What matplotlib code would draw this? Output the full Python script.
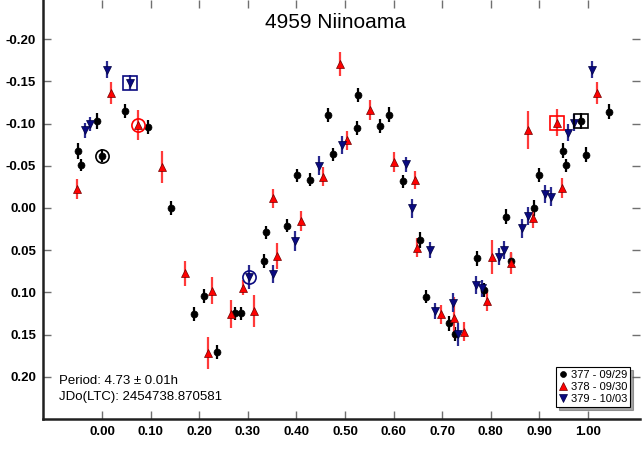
import matplotlib
matplotlib.use("Agg")
import matplotlib.pyplot as plt

# phase, reduced mag, error for each night
n377_phase = [-0.050, -0.043, -0.010, -0.001, 0.047, 0.094, 0.143, 0.189, 0.210, 0.237,
              0.274, 0.285, 0.333, 0.338, 0.380, 0.401, 0.429, 0.464, 0.476, 0.524,
              0.527, 0.571, 0.5905, 0.619, 0.654, 0.667, 0.715, 0.726, 0.771, 0.786,
              0.8306, 0.842, 0.8895, 0.900, 0.948, 0.955, 0.986, 0.995, 1.043]
n377_mag = [-0.0675, -0.051, -0.103, -0.062, -0.115, -0.096, 0.000, 0.1256, 0.104, 0.1706,
            0.125, 0.125, 0.063, 0.029, 0.021, -0.0387, -0.0336, -0.110, -0.0636, -0.095,
            -0.134, -0.097, -0.1106, -0.0316, 0.038, 0.105, 0.1366, 0.149, 0.0596, 0.097,
            0.0103, 0.0624, 0.000, -0.039, -0.068, -0.0506, -0.103, -0.063, -0.114]
n377_err = [0.009, 0.007, 0.010, 0.008, 0.008, 0.008, 0.008, 0.008, 0.008, 0.008,
            0.008, 0.008, 0.008, 0.008, 0.008, 0.008, 0.008, 0.008, 0.008, 0.008,
            0.008, 0.008, 0.009, 0.008, 0.009, 0.008, 0.009, 0.008, 0.009, 0.008,
            0.009, 0.009, 0.009, 0.008, 0.009, 0.008, 0.010, 0.009, 0.009]

n378_phase = [-0.051, 0.0185, 0.075, 0.123, 0.170, 0.218, 0.226, 0.265, 0.2895, 0.313,
              0.352, 0.361, 0.409, 0.4555, 0.490, 0.505, 0.551, 0.600, 0.644, 0.6475,
              0.697, 0.724, 0.745, 0.793, 0.803, 0.841, 0.8765, 0.8875, 0.936, 0.947,
              1.018]
n378_mag = [-0.0225, -0.136, -0.098, -0.0485, 0.0775, 0.1715, 0.098, 0.1255, 0.0944, 0.1217,
            -0.0115, 0.057, 0.015, -0.037, -0.1706, -0.080, -0.1165, -0.0545, -0.033, 0.047,
            0.126, 0.130, 0.1466, 0.110, 0.0585, 0.0656, -0.0924, 0.0122, -0.101, -0.0233,
            -0.136]
n378_err = [0.012, 0.013, 0.018, 0.019, 0.015, 0.019, 0.016, 0.017, 0.009, 0.019,
            0.011, 0.015, 0.012, 0.011, 0.014, 0.011, 0.012, 0.012, 0.011, 0.011,
            0.011, 0.024, 0.011, 0.012, 0.020, 0.013, 0.022, 0.011, 0.016, 0.012,
            0.013]

n379_phase = [-0.036, -0.025, 0.011, 0.058, 0.303, 0.351, 0.398, 0.4465, 0.493, 0.626,
              0.638, 0.674, 0.685, 0.7216, 0.733, 0.7695, 0.782, 0.817, 0.828, 0.864,
              0.876, 0.912, 0.924, 0.9595, 0.971, 1.0075]
n379_mag = [-0.092, -0.0995, -0.164, -0.1485, 0.082, 0.078, 0.039, -0.050, -0.0746, -0.0518,
            0.0004, 0.0498, 0.122, 0.112, 0.1497, 0.091, 0.095, 0.0577, 0.050, 0.024,
            0.0095, -0.0166, -0.0134, -0.089, -0.101, -0.164]
n379_err = [0.009, 0.008, 0.010, 0.009, 0.014, 0.011, 0.012, 0.011, 0.011, 0.009,
            0.011, 0.009, 0.009, 0.011, 0.014, 0.011, 0.010, 0.010, 0.011, 0.011,
            0.011, 0.011, 0.011, 0.010, 0.010, 0.010]

labels = ["377 - 09/29", "378 - 09/30", "379 - 10/03"]
# index of first point (circle) and last point (square) of each night
first_idx = [3, 2, 4]
last_idx = [36, 28, 3]

xticks = [0.0, 0.1, 0.2, 0.3, 0.4, 0.5, 0.6, 0.7, 0.8, 0.9, 1.0]
yticks = [-0.20, -0.15, -0.10, -0.05, 0.00, 0.05, 0.10, 0.15, 0.20]

plt.rcParams['font.family'] = ['Liberation Sans', 'DejaVu Sans']
plt.rcParams['axes.unicode_minus'] = False

fig = plt.figure(figsize=(6.42, 4.54), dpi=100)
ax = fig.add_axes([43/642, 35/454, 597/642, 419/454])

series = [
    (n377_phase, n377_mag, n377_err, 'o', 'black', 'black', 'black', 5.0),
    (n378_phase, n378_mag, n378_err, '^', '#ff0000', '#ff3a3a', '#700000', 6.0),
    (n379_phase, n379_mag, n379_err, 'v', '#0a0a80', '#2a2a90', '#000040', 6.0),
]
handles = []
for i, (ph, mg, er, mk, col, ecol, edge, ms) in enumerate(series):
    ax.errorbar(ph, mg, yerr=er, fmt='none', ecolor=ecol, elinewidth=1.6, capsize=0, zorder=2)
    h, = ax.plot(ph, mg, mk, color=col, markeredgecolor=edge, markeredgewidth=0.5,
                 markersize=ms, linestyle='none', label=labels[i], zorder=3)
    handles.append(h)
    j = first_idx[i]
    ax.plot(ph[j], mg[j], 'o', markersize=9.5, markerfacecolor='none',
            markeredgecolor=col, markeredgewidth=1.2, zorder=4)
    k = last_idx[i]
    ax.plot(ph[k], mg[k], 's', markersize=10, markerfacecolor='none',
            markeredgecolor=col, markeredgewidth=1.2, zorder=4)

ax.set_xlim(-0.1214, 1.107)
ax.set_ylim(0.25, -0.2464)
ax.set_xticks(xticks)
ax.set_yticks(yticks)
ax.set_xticklabels(["%.2f" % v for v in xticks], fontweight='bold', fontsize=9.5)
ax.set_yticklabels(["%.2f" % v for v in yticks], fontweight='bold', fontsize=9.5)
ax.tick_params(direction='in', length=6, width=1, color='#707070',
               top=True, right=True, pad=5)

for s in ['top', 'right']:
    ax.spines[s].set_visible(False)
for s in ['left', 'bottom']:
    ax.spines[s].set_linewidth(1.8)
    ax.spines[s].set_color('#202020')

fig.text(335.5/642, 1 - 22/454, "4959 Niinoama", ha='center', va='center', fontsize=15)
fig.text(59/642, 1 - 381/454, "Period: 4.73 \u00b1 0.01h", ha='left', va='center', fontsize=9.5)
fig.text(59/642, 1 - 397/454, "JDo(LTC): 2454738.870581", ha='left', va='center', fontsize=9.5)

leg = ax.legend(handles=handles, loc='lower right',
                bbox_to_anchor=(630/642, (454-407)/454), bbox_transform=fig.transFigure,
                fontsize=8, frameon=True, fancybox=False, shadow=True,
                borderpad=0.25, labelspacing=0.2, handlelength=0.6, handletextpad=0.45,
                borderaxespad=0, markerscale=0.85)
leg.get_frame().set_edgecolor('black')
leg.get_frame().set_linewidth(0.8)

fig.savefig("out.png", dpi=100)
